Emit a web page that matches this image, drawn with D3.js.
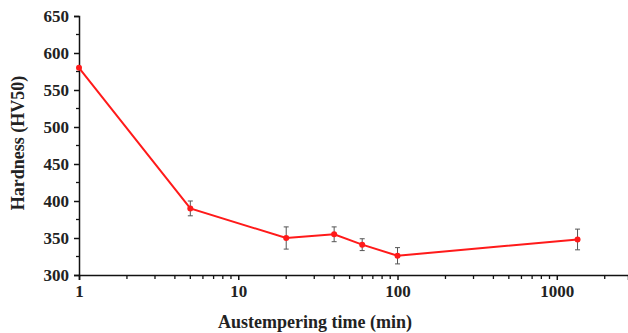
<!DOCTYPE html>
<html><head><meta charset="utf-8">
<script src="https://cdn.jsdelivr.net/npm/d3@7"></script>
<style>body{margin:0;background:#fff}svg{display:block}text{font-family:"Liberation Serif","Times New Roman",serif;font-weight:bold;fill:#222}</style>
</head><body><svg id="c" width="628" height="333"></svg>
<script>
const times = [1, 5, 20, 40, 60, 100, 1350];
const hardness = [580, 390, 350, 355, 341, 326, 348];
const errors = [0, 10, 15, 10, 8, 11, 14];
const yTicks = [300, 350, 400, 450, 500, 550, 600, 650];
const xTicks = [1, 10, 100, 1000];

const svg = d3.select("#c");
const x = d3.scaleLog().domain([1, 2800]).range([79, 628]);
const y = d3.scaleLinear().domain([300, 650]).range([275, 16]);

// axes
const yAxis = d3.axisLeft(y).tickValues(yTicks).tickSize(5).tickPadding(5).tickFormat(d3.format("d"));
const gy = svg.append("g").attr("transform","translate(79,0)").call(yAxis);
gy.select(".domain").attr("stroke","#111").attr("stroke-width",1.5);
gy.selectAll(".tick line").attr("stroke","#111").attr("stroke-width",1.5);
gy.selectAll(".tick text").style("font-size","17px").attr("fill","#222");
const yMinor = d3.range(325, 650, 50);
gy.selectAll(".minor").data(yMinor).enter().append("line")
  .attr("x1",-3).attr("x2",0).attr("y1",d=>y(d)).attr("y2",d=>y(d))
  .attr("stroke","#111").attr("stroke-width",1.3);

const xMinorVals = [];
[1,10,100,1000].forEach(b=>{for(let k=2;k<=9;k++){const v=b*k; if(v<=2800) xMinorVals.push(v);}});
const xAxis = d3.axisBottom(x).tickValues(xTicks).tickSize(5).tickPadding(5).tickFormat(d3.format("d"));
const gx = svg.append("g").attr("transform","translate(0,275)").call(xAxis);
gx.select(".domain").attr("stroke","#111").attr("stroke-width",1.5);
gx.selectAll(".tick line").attr("stroke","#111").attr("stroke-width",1.5);
gx.selectAll(".tick text").style("font-size","17px").attr("fill","#222");
gx.selectAll(".minor").data(xMinorVals).enter().append("line")
  .attr("x1",d=>x(d)).attr("x2",d=>x(d)).attr("y1",0).attr("y2",4)
  .attr("stroke","#111").attr("stroke-width",1.3);

// labels
svg.append("text").attr("transform","translate(24,143) rotate(-90)").attr("text-anchor","middle")
  .style("font-size","18px").text("Hardness (HV50)");
svg.append("text").attr("x",315).attr("y",328).attr("text-anchor","middle")
  .style("font-size","18px").text("Austempering time (min)");

// line
const pts = times.map((t,i)=>({t, h:hardness[i], e:errors[i]}));
svg.append("path").datum(pts).attr("fill","none").attr("stroke","#ff1a1a").attr("stroke-width",2)
  .attr("d", d3.line().x(d=>x(d.t)).y(d=>y(d.h)));

// error bars
const eb = svg.append("g").attr("stroke","#555").attr("stroke-width",1);
pts.filter(d=>d.e>0).forEach(d=>{
  const cx = x(d.t);
  eb.append("line").attr("x1",cx).attr("x2",cx).attr("y1",y(d.h+d.e)).attr("y2",y(d.h-d.e));
  eb.append("line").attr("x1",cx-2.5).attr("x2",cx+2.5).attr("y1",y(d.h+d.e)).attr("y2",y(d.h+d.e));
  eb.append("line").attr("x1",cx-2.5).attr("x2",cx+2.5).attr("y1",y(d.h-d.e)).attr("y2",y(d.h-d.e));
});

svg.selectAll(".pt").data(pts).enter().append("circle")
  .attr("cx",d=>x(d.t)).attr("cy",d=>y(d.h)).attr("r",3).attr("fill","#ff1a1a");
</script></body></html>
